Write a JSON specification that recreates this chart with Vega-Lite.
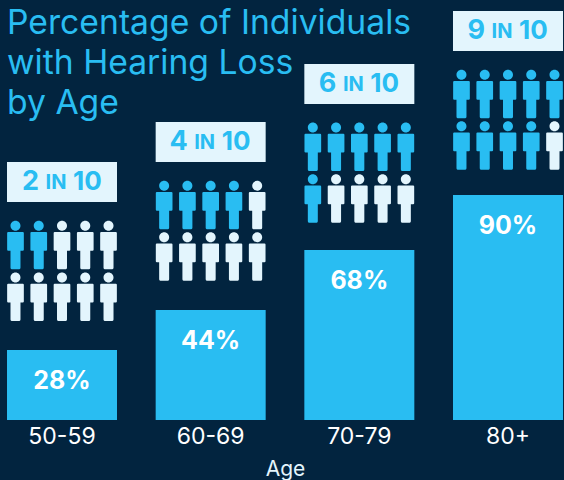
{"$schema":"https://vega.github.io/schema/vega-lite/v6.json","width":564,"height":420,"autosize":{"type":"none"},"padding":{"left":0,"right":0,"top":0,"bottom":60},"background":"#02243F","config":{"view":{"stroke":null}},
"title":{"text":["Percentage of Individuals","with Hearing Loss","by Age"],"anchor":"start","frame":"group","font":"Inter","fontSize":33.7,"fontWeight":400,"color":"#29BDF2","lineHeight":40,"baseline":"top","dx":7,"dy":121,"offset":0},
"datasets":{"groups":[{"age":"50-59","pct":28,"label":"28%","n":"2","box_low":87.2,"box_high":103.2},{"age":"60-69","pct":44,"label":"44%","n":"4","box_low":103.2,"box_high":119.2},{"age":"70-79","pct":68,"label":"68%","n":"6","box_low":126.4,"box_high":142.4},{"age":"80+","pct":90,"label":"90%","n":"9","box_low":147.6,"box_high":163.6}],
"people":[
{"age":"50-59","col":1,"level":70,"state":"yes"},{"age":"50-59","col":2,"level":70,"state":"yes"},{"age":"50-59","col":3,"level":70,"state":"no"},{"age":"50-59","col":4,"level":70,"state":"no"},{"age":"50-59","col":5,"level":70,"state":"no"},
{"age":"50-59","col":1,"level":49.3,"state":"no"},{"age":"50-59","col":2,"level":49.3,"state":"no"},{"age":"50-59","col":3,"level":49.3,"state":"no"},{"age":"50-59","col":4,"level":49.3,"state":"no"},{"age":"50-59","col":5,"level":49.3,"state":"no"},
{"age":"60-69","col":1,"level":86,"state":"yes"},{"age":"60-69","col":2,"level":86,"state":"yes"},{"age":"60-69","col":3,"level":86,"state":"yes"},{"age":"60-69","col":4,"level":86,"state":"yes"},{"age":"60-69","col":5,"level":86,"state":"no"},
{"age":"60-69","col":1,"level":65.4,"state":"no"},{"age":"60-69","col":2,"level":65.4,"state":"no"},{"age":"60-69","col":3,"level":65.4,"state":"no"},{"age":"60-69","col":4,"level":65.4,"state":"no"},{"age":"60-69","col":5,"level":65.4,"state":"no"},
{"age":"70-79","col":1,"level":109.3,"state":"yes"},{"age":"70-79","col":2,"level":109.3,"state":"yes"},{"age":"70-79","col":3,"level":109.3,"state":"yes"},{"age":"70-79","col":4,"level":109.3,"state":"yes"},{"age":"70-79","col":5,"level":109.3,"state":"yes"},
{"age":"70-79","col":1,"level":88.6,"state":"yes"},{"age":"70-79","col":2,"level":88.6,"state":"no"},{"age":"70-79","col":3,"level":88.6,"state":"no"},{"age":"70-79","col":4,"level":88.6,"state":"no"},{"age":"70-79","col":5,"level":88.6,"state":"no"},
{"age":"80+","col":1,"level":130.4,"state":"yes"},{"age":"80+","col":2,"level":130.4,"state":"yes"},{"age":"80+","col":3,"level":130.4,"state":"yes"},{"age":"80+","col":4,"level":130.4,"state":"yes"},{"age":"80+","col":5,"level":130.4,"state":"yes"},
{"age":"80+","col":1,"level":109.8,"state":"yes"},{"age":"80+","col":2,"level":109.8,"state":"yes"},{"age":"80+","col":3,"level":109.8,"state":"yes"},{"age":"80+","col":4,"level":109.8,"state":"yes"},{"age":"80+","col":5,"level":109.8,"state":"no"}
]},
"encoding":{"x":{"field":"age","type":"nominal","sort":null,"scale":{"type":"band","domain":["50-59","60-69","70-79","80+"],"range":[7,563],"paddingInner":0.26,"paddingOuter":0},"axis":{"title":"Age","labelAngle":0,"domain":false,"ticks":false,"labelColor":"#FFFFFF","labelFont":"Inter","labelFontSize":23,"labelPadding":5,"titleColor":"#E3F5FD","titleFont":"Inter","titleFontSize":21,"titleFontWeight":400,"titlePadding":10}}},
"layer":[
{"data":{"name":"groups"},"mark":{"type":"bar","color":"#29BDF2","width":110},"encoding":{"y":{"field":"pct","type":"quantitative","scale":{"domain":[0,168],"nice":false,"zero":false},"axis":null}}},
{"data":{"name":"groups"},"mark":{"type":"text","font":"Inter","fontWeight":700,"fontSize":25,"color":"#FFFFFF","baseline":"middle","dy":31},"encoding":{"y":{"field":"pct","type":"quantitative"},"text":{"field":"label"}}},
{"data":{"name":"groups"},"mark":{"type":"bar","color":"#E3F5FD","width":110},"encoding":{"y":{"field":"box_low","type":"quantitative"},"y2":{"field":"box_high"}}},
{"data":{"name":"groups"},"mark":{"type":"text","font":"Inter","fontWeight":700,"fontSize":27,"color":"#29BDF2","baseline":"middle","align":"right","dx":-23,"dy":-20},"encoding":{"y":{"field":"box_low","type":"quantitative"},"text":{"field":"n"}}},
{"data":{"name":"groups"},"mark":{"type":"text","font":"Inter","fontWeight":700,"fontSize":20,"color":"#29BDF2","baseline":"middle","align":"center","dx":-6,"dy":-19},"encoding":{"y":{"field":"box_low","type":"quantitative"},"text":{"value":"IN"}}},
{"data":{"name":"groups"},"mark":{"type":"text","font":"Inter","fontWeight":700,"fontSize":26,"color":"#29BDF2","baseline":"middle","align":"left","dx":11,"dy":-20},"encoding":{"y":{"field":"box_low","type":"quantitative"},"text":{"value":"10"}}},
{"data":{"name":"people"},"mark":{"type":"point","filled":true,"opacity":1,"size":2352,"shape":"M-.206-.794a.206.206 0 1 0 .412 0a.206.206 0 1 0-.412 0ZM-.3-.534H.3Q.344-.534.344-.49V.2Q.344.238.3.238H.206V.94Q.206 1 .16 1H-.16Q-.206 1-.206.94V.238H-.3Q-.344.238-.344.2V-.49Q-.344-.534-.3-.534Z"},"encoding":{"xOffset":{"field":"col","type":"ordinal","scale":{"type":"point","padding":0.365}},"y":{"field":"level","type":"quantitative"},"color":{"field":"state","type":"nominal","scale":{"domain":["yes","no"],"range":["#29BDF2","#E3F5FD"]},"legend":null}}}
]}
